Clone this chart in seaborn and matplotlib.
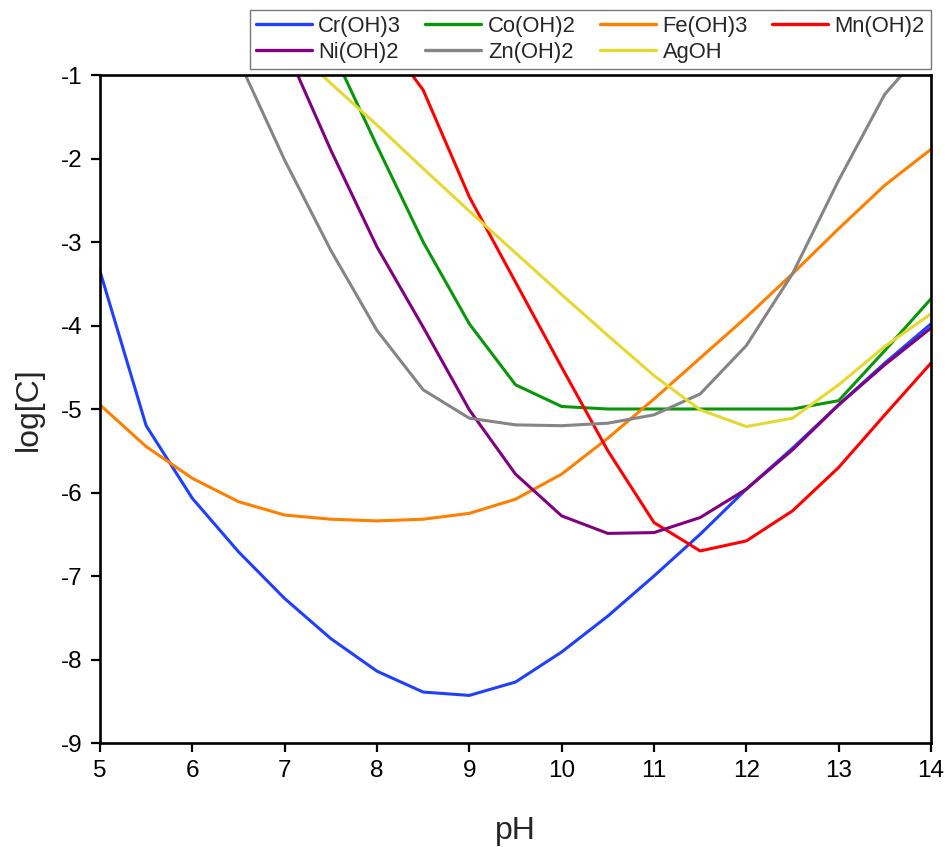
import numpy as np
import pandas as pd
import matplotlib
matplotlib.use("Agg")
import matplotlib.pyplot as plt
import seaborn as sns

# ---- data ----
ph_cr = [5, 5.5, 6, 6.5, 7, 7.5, 8, 8.5, 9, 9.5, 10, 10.5, 11, 11.5, 12, 12.5, 13, 13.5, 14]
cr_oh3 = [-3.35, -5.2, -6.07, -6.71, -7.27, -7.75, -8.14, -8.39, -8.43, -8.27, -7.91, -7.48, -7.0, -6.5, -5.96, -5.47, -4.95, -4.45, -3.98]

ph_fe = [5, 5.5, 6, 6.5, 7, 7.5, 8, 8.5, 9, 9.5, 10, 10.5, 11, 11.5, 12, 12.5, 13, 13.5, 14]
fe_oh3 = [-4.95, -5.45, -5.83, -6.11, -6.27, -6.32, -6.34, -6.32, -6.25, -6.08, -5.78, -5.35, -4.88, -4.39, -3.9, -3.38, -2.84, -2.32, -1.89]

ph_co = [7.5, 8, 8.5, 9, 9.5, 10, 10.5, 11, 11.5, 12, 12.5, 13, 13.5, 14]
co_oh2 = [-0.67, -1.85, -3.0, -3.98, -4.71, -4.97, -5.0, -5.0, -5.0, -5.0, -5.0, -4.9, -4.3, -3.68]

ph_mn = [8, 8.5, 9, 9.5, 10, 10.5, 11, 11.5, 12, 12.5, 13, 13.5, 14]
mn_oh2 = [-0.43, -1.18, -2.46, -3.48, -4.5, -5.5, -6.36, -6.7, -6.58, -6.22, -5.7, -5.07, -4.45]

ph_ni = [7, 7.5, 8, 8.5, 9, 9.5, 10, 10.5, 11, 11.5, 12, 12.5, 13, 13.5, 14]
ni_oh2 = [-0.65, -1.9, -3.06, -4.02, -5.01, -5.78, -6.28, -6.49, -6.48, -6.3, -5.96, -5.49, -4.95, -4.47, -4.03]

ph_zn = [6.5, 7, 7.5, 8, 8.5, 9, 9.5, 10, 10.5, 11, 11.5, 12, 12.5, 13, 13.5, 14]
zn_oh2 = [-0.82, -2.02, -3.1, -4.06, -4.77, -5.11, -5.19, -5.2, -5.17, -5.07, -4.82, -4.24, -3.38, -2.26, -1.23, -0.6]

ph_ag = [7, 7.5, 8, 8.5, 9, 9.5, 10, 10.5, 11, 11.5, 12, 12.5, 13, 13.5, 14]
agoh = [-0.58, -1.1, -1.6, -2.12, -2.63, -3.13, -3.63, -4.12, -4.6, -5.01, -5.21, -5.11, -4.71, -4.25, -3.86]

species = ["Cr(OH)3", "Co(OH)2", "Fe(OH)3", "Mn(OH)2", "Ni(OH)2", "Zn(OH)2", "AgOH"]
colors = ["#2040ff", "#0a960a", "#ff8000", "#ff0000", "#800080", "#858585", "#e6d832"]

series = {
    "Cr(OH)3": (ph_cr, cr_oh3),
    "Co(OH)2": (ph_co, co_oh2),
    "Fe(OH)3": (ph_fe, fe_oh3),
    "Mn(OH)2": (ph_mn, mn_oh2),
    "Ni(OH)2": (ph_ni, ni_oh2),
    "Zn(OH)2": (ph_zn, zn_oh2),
    "AgOH": (ph_ag, agoh),
}

rows = []
for name in species:
    xs, ys = series[name]
    for x, y in zip(xs, ys):
        rows.append({"pH": x, "logC": y, "species": name})
df = pd.DataFrame(rows)

# ---- styling ----
sns.set_theme(style="ticks")
plt.rcParams["font.family"] = ["Liberation Sans", "DejaVu Sans"]
plt.rcParams["axes.unicode_minus"] = False

fig = plt.figure(figsize=(9.46, 8.47), dpi=100)
ax = fig.add_axes([100 / 946, 1 - 743 / 847, (931 - 100) / 946, (743 - 75) / 847])

sns.lineplot(data=df, x="pH", y="logC", hue="species", hue_order=species,
             palette=dict(zip(species, colors)), estimator=None, sort=False,
             linewidth=2.2, ax=ax)

ax.set_xlim(5, 14)
ax.set_ylim(-9, -1)
ax.set_xticks(range(5, 15))
ax.set_yticks(range(-9, 0))
ax.set_xlabel("pH", fontsize=23, labelpad=24)
ax.set_ylabel("log[C]", fontsize=23, labelpad=12)
ax.tick_params(axis="both", labelsize=17.5, length=6.5, width=1.6, direction="out",
               colors="black", pad=6)
for side in ["left", "bottom", "top", "right"]:
    ax.spines[side].set_visible(True)
    ax.spines[side].set_linewidth(1.9)
    ax.spines[side].set_color("black")

handles, labels = ax.get_legend_handles_labels()
ax.get_legend().remove()
hmap = dict(zip(labels, handles))
order = ["Cr(OH)3", "Ni(OH)2", "Co(OH)2", "Zn(OH)2", "Fe(OH)3", "AgOH", "Mn(OH)2"]
leg = fig.legend([hmap[k] for k in order], order, ncol=4, loc="upper right",
                 bbox_to_anchor=(931 / 946, 1 - 10 / 847), fontsize=15.8,
                 frameon=True, fancybox=False, edgecolor="#555555",
                 handlelength=2.55, handletextpad=0.3, columnspacing=1.1,
                 labelspacing=0.2, borderpad=0.28, borderaxespad=0)
leg.get_frame().set_linewidth(1.0)
for line in leg.get_lines():
    line.set_linewidth(2.4)

fig.savefig("out.png", dpi=100)
